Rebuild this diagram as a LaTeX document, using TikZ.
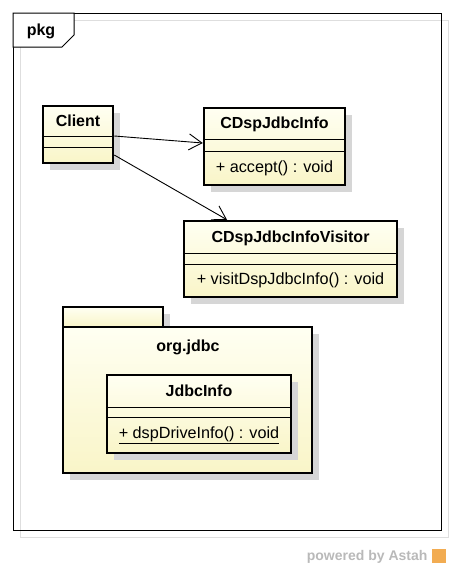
\documentclass[tikz,border=0pt]{standalone}
\usepackage{fontspec}
\setmainfont{Liberation Sans}
\usetikzlibrary{arrows.meta,shadows}
\definecolor{classtop}{RGB}{255,255,242}
\definecolor{classbot}{RGB}{249,245,200}
\definecolor{shadowgray}{RGB}{214,214,214}
\definecolor{framegray}{RGB}{222,222,222}
\definecolor{astahgray}{RGB}{185,185,185}
\definecolor{astahorange}{RGB}{242,172,82}

\begin{document}
\begin{tikzpicture}[x=1pt,y=-1pt]
        \tikzset{umlbox/.style = {draw,line width=2.5pt,inner sep=0pt,top color=classtop,bottom color=classbot,
                general shadow={shadow xshift=7pt,shadow yshift=-7pt,fill=shadowgray}}}
        \tikzset{title/.style = {font=\fontsize{16}{19}\selectfont\bfseries}}
        \tikzset{member/.style = {font=\fontsize{16.2}{19}\selectfont}}
        \tikzset{sep/.style = {line width=1pt}}
        \tikzset{edge/.style = {-{Straight Barb[length=13pt,width=16pt]},line width=0.9pt}}
        \useasboundingbox (0,0) rectangle (453,570);
        % frame
        \draw[framegray,line width=1pt] (20,20) rectangle (448,537);
        \draw[line width=1pt] (13,13) rectangle (441,530);
        \filldraw[fill=white,line width=1pt] (13,13) -- (74,13) -- (74,35) -- (62,47) -- (13,47) -- cycle;
        \node[title] (pkglabel) at (41,31) {pkg};
        % classes
        \node[umlbox,minimum width=70pt,minimum height=57pt] (client) at (78,134.5) {};
        \node[title] (clientname) at (78,121) {Client};
        \draw[sep] (client.west |- 0,136) -- (client.east |- 0,136);
        \draw[sep] (client.west |- 0,147) -- (client.east |- 0,147);
        \node[umlbox,minimum width=141pt,minimum height=77pt] (info) at (274.5,146.5) {};
        \node[title] (infoname) at (274.5,124) {CDspJdbcInfo};
        \draw[sep] (info.west |- 0,139) -- (info.east |- 0,139);
        \draw[sep] (info.west |- 0,151) -- (info.east |- 0,151);
        \node[member] (infoop) at (274.5,168) {+ accept() : void};
        \node[umlbox,minimum width=213pt,minimum height=76pt] (visitor) at (290.5,259) {};
        \node[title] (visitorname) at (290.5,238) {CDspJdbcInfoVisitor};
        \draw[sep] (visitor.west |- 0,253) -- (visitor.east |- 0,253);
        \draw[sep] (visitor.west |- 0,264) -- (visitor.east |- 0,264);
        \node[member] (visitorop) at (290.5,280) {+ visitDspJdbcInfo() : void};
        % package
        \node[umlbox,minimum width=100pt,minimum height=20pt] (tab) at (113,317) {};
        \node[umlbox,minimum width=249pt,minimum height=146pt] (jdbc) at (187.5,400) {};
        \node[title] (jdbclabel) at (188,347) {org.jdbc};
        \node[umlbox,minimum width=184pt,minimum height=78pt] (jdbcinfo) at (199,414) {};
        \node[title] (jdbcinfoname) at (199,391) {JdbcInfo};
        \draw[sep] (jdbcinfo.west |- 0,407) -- (jdbcinfo.east |- 0,407);
        \draw[sep] (jdbcinfo.west |- 0,417) -- (jdbcinfo.east |- 0,417);
        \node[member] (jdbcinfoop) at (199,435) {\underline{+ dspDriveInfo() : void}};
        % edges
        \draw[edge] ([yshift=-1.5pt]client.east) to ([yshift=3.5pt]info.west);
        \draw[edge] ([yshift=-20.5pt]client.east) to ([xshift=-63.5pt]visitor.north);
        % logo
        \node[font=\fontsize{14}{16}\selectfont\bfseries,text=astahgray,anchor=east] (powered) at (431,557) {powered by Astah};
        \node[fill=astahorange,minimum size=14pt,inner sep=0pt] (logo) at (439,556) {};
\end{tikzpicture}
\end{document}
